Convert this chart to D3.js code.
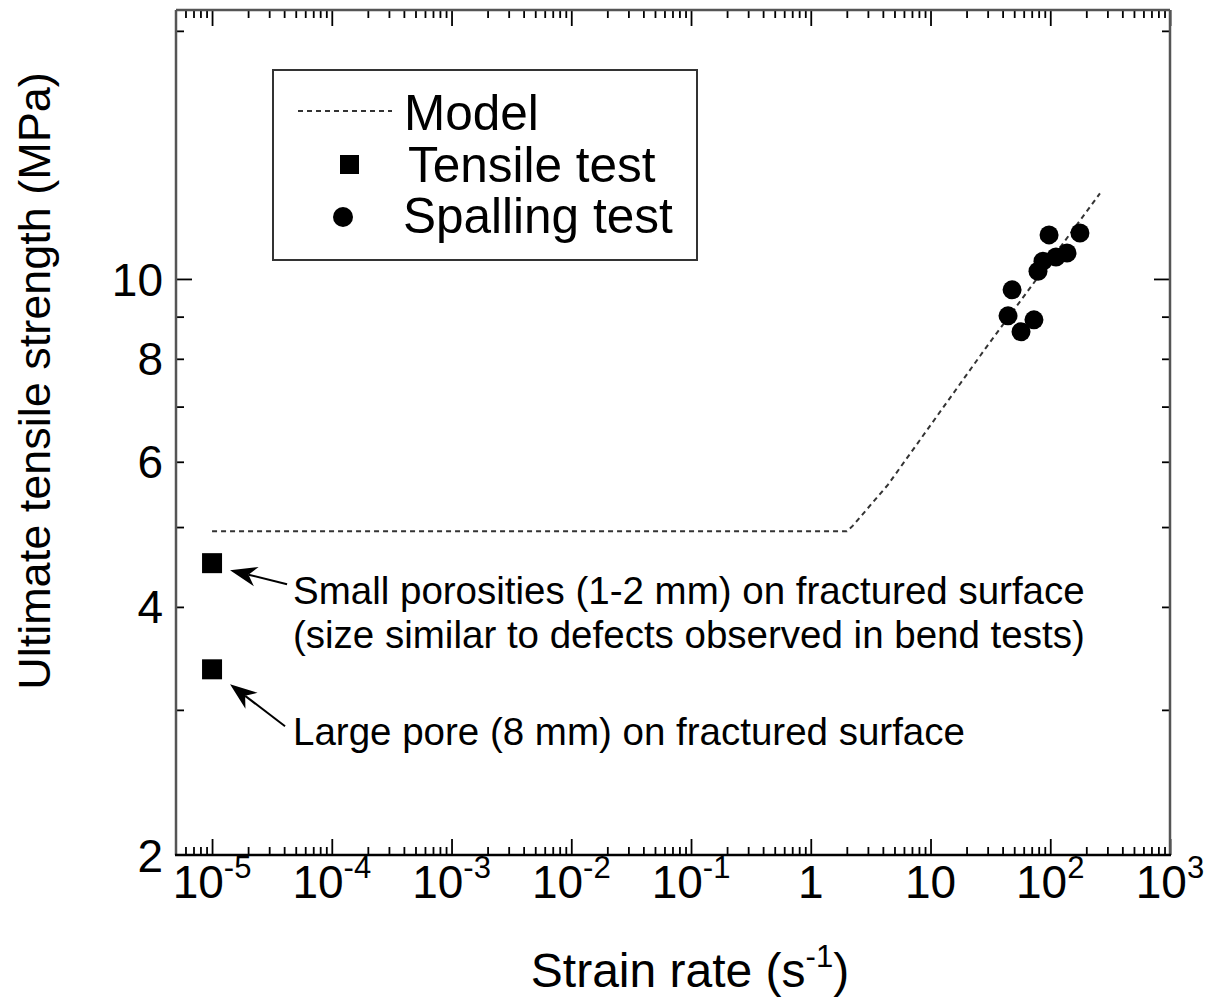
<!DOCTYPE html>
<html><head><meta charset="utf-8">
<script src="https://cdn.jsdelivr.net/npm/d3@7"></script>
<style>
body{margin:0;background:#fff}
text{font-family:"Liberation Sans",Arial,Helvetica,sans-serif;fill:#000}
</style>
</head><body>
<svg id="c" width="1220" height="1003"></svg>
<script>
// ---- data ----
const spallingRate     = [97.7, 177, 86.9, 111.7, 138, 79, 48, 44.4, 73.1, 57];
const spallingStrength = [11.31, 11.37, 10.51, 10.63, 10.75, 10.22, 9.70, 9.02, 8.92, 8.63];
const tensileRate      = [1e-5, 1e-5];
const tensileStrength  = [4.52, 3.36];
const modelRate        = [1e-5, 2.0, 2.25, 4.42, 29.0, 260];
const modelStrength    = [4.94, 4.94, 5.02, 5.63, 8.25, 12.7];
const xTickValues = [1e-5, 1e-4, 1e-3, 1e-2, 1e-1, 1, 10, 100, 1000];
const xTickLabels = [["10","-5"],["10","-4"],["10","-3"],["10","-2"],["10","-1"],["1",""],["10",""],["10","2"],["10","3"]];
const yTickValues = [2, 4, 6, 8, 10];
const yTickLabels = ["2", "4", "6", "8", "10"];
const legendLabels = ["Model", "Tensile test", "Spalling test"];
const annotationLines1 = ["Small porosities (1-2 mm) on fractured surface", "(size similar to defects observed in bend tests)"];
const annotationLines2 = ["Large pore (8 mm) on fractured surface"];

// ---- layout ----
const L = 176, R = 1170, T = 10, B = 855;
const svg = d3.select("#c");
const x = d3.scaleLog().domain([5e-6, 1e3]).range([L, R]);
const y = d3.scaleLog().domain([2, 21.2]).range([B, T]);

// minor tick positions
const xMinor = [];
for (let e = -6; e <= 2; e++) for (let m = 2; m <= 9; m++) { const v = m * Math.pow(10, e); if (v >= 5e-6 && v <= 1e3) xMinor.push(v); }
const yMinor = [3,4,5,6,7,8,9,20];
const yMajor = [10];

function tickAxis(axisFn, scale, vals, size, transform) {
  const g = svg.append("g").attr("transform", transform)
    .call(axisFn(scale).tickValues(vals).tickSize(size).tickSizeOuter(0).tickFormat(""));
  g.select(".domain").remove();
  g.selectAll(".tick line").attr("stroke", "#000").attr("stroke-width", 1.8);
  return g;
}
tickAxis(d3.axisBottom, x, xTickValues, -16, `translate(0,${B})`);
tickAxis(d3.axisBottom, x, xMinor, -8, `translate(0,${B})`);
tickAxis(d3.axisTop, x, xTickValues, -16, `translate(0,${T})`);
tickAxis(d3.axisTop, x, xMinor, -8, `translate(0,${T})`);
tickAxis(d3.axisLeft, y, yMajor, -16, `translate(${L},0)`);
tickAxis(d3.axisLeft, y, yMinor, -8, `translate(${L},0)`);
tickAxis(d3.axisRight, y, yMajor, -16, `translate(${R},0)`);
tickAxis(d3.axisRight, y, yMinor, -8, `translate(${R},0)`);

// frame
svg.append("line").attr("x1", L).attr("x2", L).attr("y1", T).attr("y2", B).attr("stroke", "#555").attr("stroke-width", 2.5);
svg.append("line").attr("x1", R).attr("x2", R).attr("y1", T).attr("y2", B).attr("stroke", "#555").attr("stroke-width", 2.5);
svg.append("line").attr("x1", L).attr("x2", R).attr("y1", T).attr("y2", T).attr("stroke", "#555").attr("stroke-width", 2.5);
svg.append("line").attr("x1", L - 1).attr("x2", R + 1).attr("y1", B).attr("y2", B).attr("stroke", "#000").attr("stroke-width", 2.5);

// x tick labels
xTickValues.forEach((v, i) => {
  const t = svg.append("text").attr("x", x(v)).attr("y", 898).attr("text-anchor", "middle").attr("font-size", 46);
  t.append("tspan").text(xTickLabels[i][0]);
  if (xTickLabels[i][1]) t.append("tspan").attr("font-size", 31).attr("dy", -20).text(xTickLabels[i][1]);
});
// y tick labels
yTickValues.forEach((v, i) => {
  svg.append("text").attr("x", 163).attr("y", y(v)).attr("dy", "0.36em").attr("text-anchor", "end").attr("font-size", 46).text(yTickLabels[i]);
});

// axis titles
const xt = svg.append("text").attr("x", 690).attr("y", 987).attr("text-anchor", "middle").attr("font-size", 48);
xt.append("tspan").text("Strain rate (s");
xt.append("tspan").attr("font-size", 31).attr("dy", -20).text("-1");
xt.append("tspan").attr("dy", 20).text(")");
svg.append("text").attr("transform", "translate(50,381) rotate(-90)").attr("text-anchor", "middle").attr("font-size", 45)
  .text("Ultimate tensile strength (MPa)");

// model line
const modelData = modelRate.map((r, i) => [r, modelStrength[i]]);
svg.append("path").datum(modelData)
  .attr("d", d3.line().x(d => x(d[0])).y(d => y(d[1])))
  .attr("fill", "none").attr("stroke", "#333").attr("stroke-width", 2).attr("stroke-dasharray", "5,4");

// spalling points
svg.append("g").selectAll("circle").data(spallingRate.map((r, i) => [r, spallingStrength[i]])).join("circle")
  .attr("cx", d => x(d[0])).attr("cy", d => y(d[1])).attr("r", 9.5).attr("fill", "#000");

// tensile points
svg.append("g").selectAll("rect").data(tensileRate.map((r, i) => [r, tensileStrength[i]])).join("rect")
  .attr("x", d => x(d[0]) - 10).attr("y", d => y(d[1]) - 10).attr("width", 20).attr("height", 20).attr("fill", "#000");

// arrows
function arrow(tx, ty, sx, sy) {
  const dx = sx - tx, dy = sy - ty, len = Math.hypot(dx, dy);
  const ux = dx / len, uy = dy / len, px = -uy, py = ux;
  const hl = 27, hw = 10, notch = 19;
  svg.append("line").attr("x1", tx + ux * notch).attr("y1", ty + uy * notch).attr("x2", sx).attr("y2", sy)
    .attr("stroke", "#000").attr("stroke-width", 2);
  const p = [[tx, ty], [tx + ux * hl + px * hw, ty + uy * hl + py * hw], [tx + ux * notch, ty + uy * notch], [tx + ux * hl - px * hw, ty + uy * hl - py * hw]];
  svg.append("path").attr("d", "M" + p.map(q => q.join(",")).join("L") + "Z").attr("fill", "#000");
}
const s1x = x(tensileRate[0]), s1y = y(tensileStrength[0]);
const s2x = x(tensileRate[1]), s2y = y(tensileStrength[1]);
arrow(s1x + 18, s1y + 7, s1x + 75, s1y + 21);
arrow(s2x + 18, s2y + 15, s2x + 73, s2y + 57);

// annotation text
annotationLines1.forEach((s, i) => svg.append("text").attr("x", 293).attr("y", 604 + i * 44).attr("font-size", 38.5).text(s));
annotationLines2.forEach((s, i) => svg.append("text").attr("x", 293).attr("y", 745 + i * 44).attr("font-size", 38.5).text(s));

// legend
const lg = svg.append("g");
lg.append("rect").attr("x", 273).attr("y", 70).attr("width", 424).attr("height", 190).attr("fill", "#fff").attr("stroke", "#333").attr("stroke-width", 2);
lg.append("line").attr("x1", 298).attr("x2", 392).attr("y1", 111).attr("y2", 111).attr("stroke", "#333").attr("stroke-width", 2).attr("stroke-dasharray", "5,4");
lg.append("rect").attr("x", 340).attr("y", 155).attr("width", 19).attr("height", 19).attr("fill", "#000");
lg.append("circle").attr("cx", 343).attr("cy", 217).attr("r", 10).attr("fill", "#000");
lg.append("text").attr("x", 404).attr("y", 130).attr("font-size", 49.5).text(legendLabels[0]);
lg.append("text").attr("x", 408).attr("y", 182).attr("font-size", 49.5).text(legendLabels[1]);
lg.append("text").attr("x", 403).attr("y", 233).attr("font-size", 49.5).text(legendLabels[2]);
</script>
</body></html>
